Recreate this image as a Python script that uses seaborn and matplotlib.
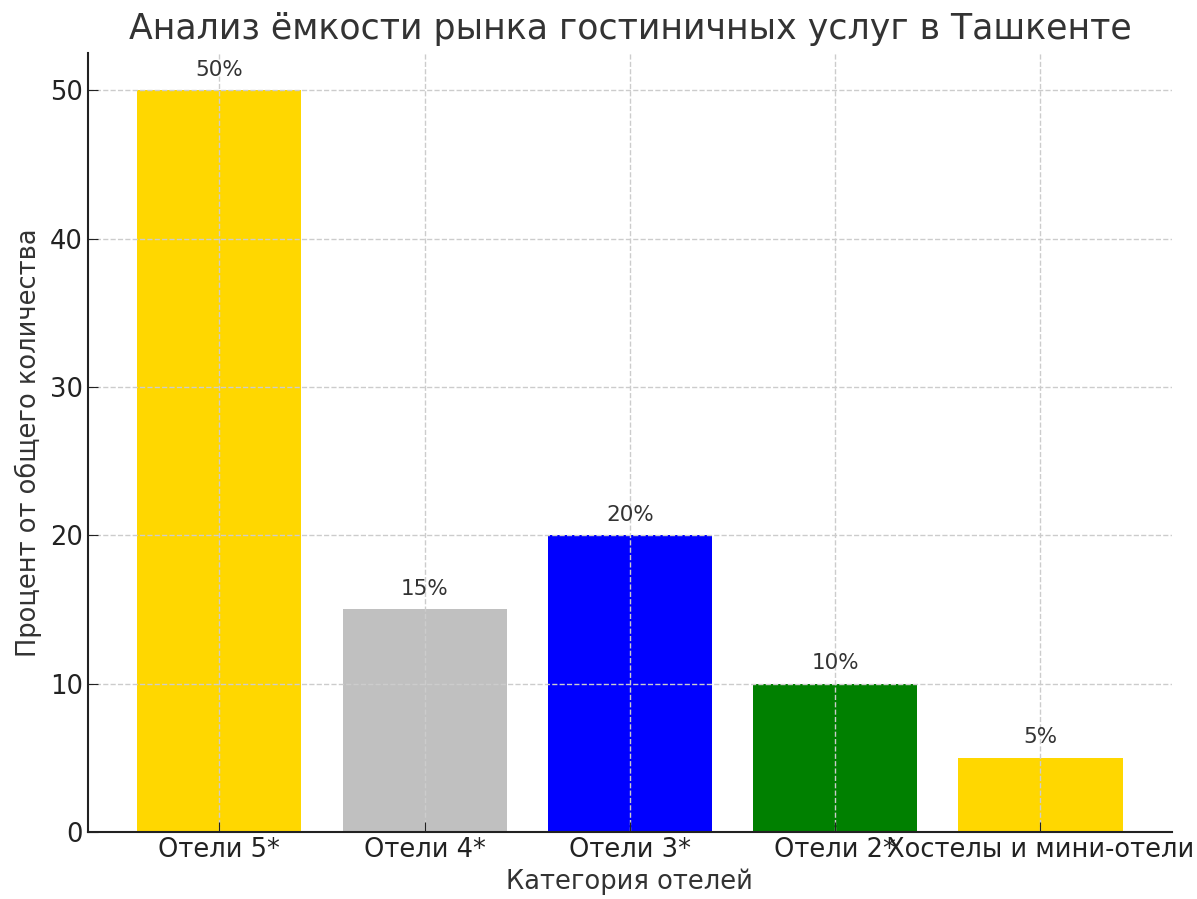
import matplotlib
matplotlib.use("Agg")
import matplotlib.pyplot as plt
import seaborn as sns
import pandas as pd

categories = ["Отели 5*", "Отели 4*", "Отели 3*", "Отели 2*", "Хостелы и мини-отели"]
shares = [50, 15, 20, 10, 5]
bar_colors = ["#FFD700", "#C0C0C0", "#0000FF", "#008000", "#FFD700"]

title = "Анализ ёмкости рынка гостиничных услуг в Ташкенте"
xlabel = "Категория отелей"
ylabel = "Процент от общего количества"

plt.rcParams["font.family"] = ["DejaVu Sans"]
plt.rcParams["axes.axisbelow"] = "line"

df = pd.DataFrame({"category": categories, "share": shares})

fig, ax = plt.subplots(figsize=(11.97, 8.99), dpi=100)
sns.barplot(data=df, x="category", y="share", hue="category",
            palette=bar_colors, legend=False, width=0.8,
            saturation=1, ax=ax)
ax.set_xlim(-0.64, 4.64)
ax.set_ylim(0, 52.5)

for i, v in enumerate(shares):
    ax.text(i, v + 0.7, f"{v}%", ha="center", va="bottom",
            fontsize=15.5, color="#333333")

ax.set_title(title, fontsize=25, color="#333333", pad=10)
ax.set_xlabel(xlabel, fontsize=18.5, color="#333333", labelpad=4)
ax.set_ylabel(ylabel, fontsize=18.5, color="#333333", labelpad=6)
ax.tick_params(axis="both", labelsize=18.5, direction="in", length=7,
               colors="#222222")
ax.grid(True, linestyle="--", color="#cccccc", linewidth=1)
ax.set_yticks([0, 10, 20, 30, 40, 50])
for s in ["top", "right"]:
    ax.spines[s].set_visible(False)
for s in ["left", "bottom"]:
    ax.spines[s].set_color("#222222")
    ax.spines[s].set_linewidth(1.5)

fig.subplots_adjust(left=0.0735, right=0.979, top=0.941, bottom=0.0745)
fig.savefig("out.png", dpi=100)
